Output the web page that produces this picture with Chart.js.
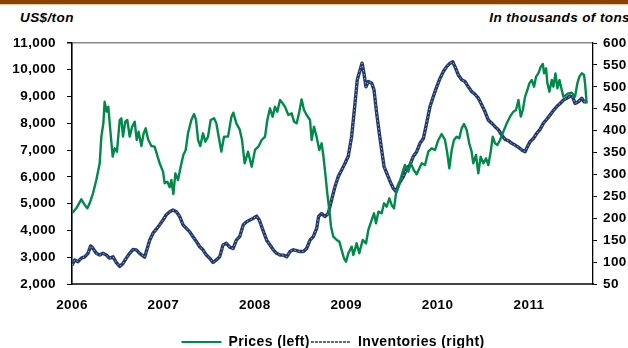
<!DOCTYPE html>
<html>
<head>
<meta charset="utf-8">
<script src="https://cdn.jsdelivr.net/npm/chart.js@4/dist/chart.umd.min.js"></script>
<style>
  html, body { margin: 0; padding: 0; background: #fff; }
  #wrap { position: relative; width: 628px; height: 348px; overflow: hidden; }
  #topbar { position: absolute; left: 0; top: 0; width: 628px; height: 4px; background: #8C4300; border-bottom: 1px solid #E2CBA8; }
  .unit { position: absolute; top: 10px; font: italic bold 13.5px "Liberation Sans", Arial, sans-serif; letter-spacing: 0.4px; line-height: 16px; color: #000; white-space: nowrap; }
  #uleft { left: 20px; }
  #uright { right: -2px; }
  canvas { position: absolute; left: 0; top: 0; }
</style>
</head>
<body>
<div id="wrap">
  <div id="topbar"></div>
  <div class="unit" id="uleft">US$/ton</div>
  <div class="unit" id="uright">In thousands of tons</div>
  <canvas id="c" width="628" height="348"></canvas>
</div>
<script>
// ---- data (decimal years) ----
const yearLabels = [2006, 2007, 2008, 2009, 2010, 2011];

const priceYears = [
  2006.000,2006.047,2006.102,2006.139,2006.168,2006.193,2006.230,2006.266,2006.303,2006.321,
  2006.343,2006.357,2006.379,2006.397,2006.419,2006.445,2006.467,2006.492,2006.522,2006.540,
  2006.558,2006.583,2006.605,2006.631,2006.656,2006.686,2006.708,2006.729,2006.759,2006.784,
  2006.806,2006.832,2006.868,2006.904,2006.926,2006.959,2006.996,2007.014,2007.043,2007.069,
  2007.087,2007.109,2007.131,2007.160,2007.189,2007.218,2007.244,2007.269,2007.306,2007.335,
  2007.357,2007.379,2007.404,2007.433,2007.459,2007.488,2007.517,2007.554,2007.579,2007.605,
  2007.634,2007.663,2007.707,2007.743,2007.765,2007.798,2007.834,2007.860,2007.889,2007.926,
  2007.966,2008.002,2008.039,2008.075,2008.112,2008.137,2008.166,2008.195,2008.221,2008.246,
  2008.276,2008.305,2008.330,2008.367,2008.403,2008.429,2008.458,2008.487,2008.512,2008.538,
  2008.567,2008.604,2008.622,2008.647,2008.676,2008.705,2008.731,2008.749,2008.771,2008.793,
  2008.815,2008.834,2008.859,2008.896,2008.925,2008.950,2008.976,2008.998,2009.023,2009.060,
  2009.078,2009.114,2009.143,2009.180,2009.217,2009.242,2009.279,2009.304,2009.326,2009.352,
  2009.388,2009.414,2009.443,2009.472,2009.497,2009.523,2009.545,2009.581,2009.618,2009.643,
  2009.680,2009.706,2009.740,2009.771,2009.826,2009.862,2009.898,2009.935,2009.972,2010.008,
  2010.044,2010.081,2010.106,2010.128,2010.154,2010.179,2010.208,2010.237,2010.263,2010.289,
  2010.318,2010.346,2010.372,2010.390,2010.420,2010.445,2010.471,2010.500,2010.530,2010.555,
  2010.581,2010.603,2010.628,2010.654,2010.683,2010.719,2010.756,2010.792,2010.829,2010.858,
  2010.884,2010.910,2010.932,2010.957,2010.982,2011.004,2011.030,2011.055,2011.077,2011.102,
  2011.129,2011.151,2011.165,2011.187,2011.201,2011.223,2011.249,2011.267,2011.289,2011.311,
  2011.333,2011.358,2011.376,2011.405,2011.431,2011.468,2011.504,2011.529,2011.551,2011.577,
  2011.602,2011.613,2011.631
];
const priceValues = [
  4640,4826,5162,4951,4826,5013,5386,5884,6507,7502,
  8000,8809,8436,8623,7751,6756,7067,6942,8125,8187,
  7502,8062,8125,7502,7851,8062,7378,7689,7154,7627,
  7813,7403,7154,7129,6880,6507,6195,5760,5822,5610,
  5884,5361,6133,5884,6382,6818,7005,7627,8125,8349,
  8125,7378,7154,7627,7316,7502,8125,8187,8000,7502,
  6942,7502,7502,8224,8399,8000,7776,7378,6507,6942,
  6382,7005,7129,7378,7502,8125,8560,8249,8623,8436,
  8872,8747,8623,8312,8374,8062,8000,8436,8896,8498,
  8312,8125,7378,7876,7502,7005,7253,6818,6133,5386,
  4764,4142,3768,3644,3582,3270,2959,2835,3146,3395,
  3084,3519,3146,3644,3519,4017,4391,4640,4266,4702,
  4640,5013,4889,5200,4951,4826,5386,5760,6195,6444,
  6195,6507,6250,6100,6507,6444,6942,7067,7005,7378,
  7602,7378,6880,6320,7005,7378,7502,7440,7813,7975,
  7751,7253,6942,6507,6818,6133,6756,6507,6693,6444,
  6942,7502,7253,7191,7378,7689,8000,8249,8436,8498,
  8872,8249,8498,8996,9245,9494,9618,9369,9743,9867,
  10116,10216,9867,10054,9494,9183,9618,9369,9867,9307,
  9618,9245,8996,9058,9120,9145,8996,9494,9743,9867,
  9805,9494,8747
];

const inventoryYears = [
  2006.000,2006.029,2006.066,2006.102,2006.139,2006.175,2006.204,2006.230,2006.266,2006.303,
  2006.339,2006.376,2006.412,2006.449,2006.485,2006.522,2006.558,2006.594,2006.631,2006.668,
  2006.704,2006.740,2006.795,2006.813,2006.850,2006.886,2006.923,2006.959,2006.996,2007.032,
  2007.069,2007.105,2007.142,2007.178,2007.215,2007.251,2007.288,2007.324,2007.361,2007.397,
  2007.433,2007.470,2007.506,2007.543,2007.579,2007.616,2007.652,2007.689,2007.725,2007.762,
  2007.798,2007.834,2007.874,2007.911,2007.947,2007.984,2008.020,2008.049,2008.075,2008.101,
  2008.130,2008.166,2008.202,2008.239,2008.276,2008.312,2008.349,2008.385,2008.421,2008.458,
  2008.494,2008.531,2008.567,2008.604,2008.640,2008.677,2008.698,2008.731,2008.767,2008.804,
  2008.840,2008.877,2008.913,2008.950,2008.986,2009.023,2009.059,2009.096,2009.121,2009.151,
  2009.173,2009.194,2009.216,2009.242,2009.279,2009.304,2009.333,2009.362,2009.388,2009.414,
  2009.443,2009.480,2009.516,2009.545,2009.581,2009.625,2009.662,2009.698,2009.734,2009.771,
  2009.807,2009.844,2009.880,2009.917,2009.953,2009.990,2010.026,2010.063,2010.099,2010.136,
  2010.165,2010.190,2010.227,2010.263,2010.300,2010.336,2010.373,2010.409,2010.446,2010.482,
  2010.519,2010.555,2010.592,2010.628,2010.665,2010.701,2010.738,2010.774,2010.811,2010.847,
  2010.884,2010.920,2010.957,2010.982,2011.012,2011.048,2011.085,2011.121,2011.158,2011.194,
  2011.231,2011.267,2011.304,2011.340,2011.377,2011.413,2011.450,2011.479,2011.504,2011.540,
  2011.577,2011.602,2011.631
];
const inventoryValues = [
  93,105,101,109,112,120,137,131,120,116,
  120,116,109,112,99,90,97,109,120,129,
  128,120,111,124,150,166,175,185,196,208,
  215,219,215,204,185,177,169,158,147,135,
  128,116,109,99,105,112,139,143,134,131,
  150,158,185,192,196,200,205,196,181,166,
  150,139,128,120,116,116,112,124,128,126,
  124,124,131,150,158,177,204,211,204,211,
  242,272,295,310,325,342,386,462,516,538,
  554,531,500,512,508,493,440,394,356,318,
  303,284,268,261,280,295,314,322,341,352,
  371,382,417,455,478,500,519,535,546,554,
  557,546,527,516,512,500,489,483,474,459,
  443,424,417,409,402,390,380,377,371,367,
  362,356,352,363,375,382,394,403,417,426,
  436,446,455,462,470,474,479,476,462,466,
  474,466,466
];

const seriesNames = ['Prices (left)', 'Inventories (right)'];

// ---- build ----
const pricePts = priceYears.map((t, i) => ({ x: t, y: priceValues[i] }));
const invPts = inventoryYears.map((t, i) => ({ x: t, y: inventoryValues[i] }));

const FONT = '"Liberation Sans", Arial, sans-serif';
const GREEN = '#00894B';
const NAVY = '#22396A';

const spacingPlugin = {
  id: 'spacing',
  beforeUpdate(chart) { chart.ctx.letterSpacing = '0.4px'; },
  beforeDraw(chart) { chart.ctx.letterSpacing = '0.4px'; },
  afterLayout(chart) {
    if (chart.legend) {
      chart.legend.left += 19; chart.legend.right += 19;
      chart.legend.top += 11; chart.legend.bottom += 11;
    }
  }
};

new Chart(document.getElementById('c'), {
  type: 'line',
  data: {
    datasets: [
      { label: seriesNames[0], data: pricePts, yAxisID: 'y', borderColor: GREEN, backgroundColor: GREEN,
        borderWidth: 2.4, pointRadius: 0, tension: 0, order: 0, borderJoinStyle: 'round' },
      { label: 'overlay', data: invPts, yAxisID: 'y1', borderColor: '#9BACCD', backgroundColor: '#9BACCD',
        borderWidth: 1, borderDash: [1.5, 2.5], pointRadius: 0, tension: 0, order: 1 },
      { label: seriesNames[1], data: invPts, yAxisID: 'y1', borderColor: NAVY, backgroundColor: NAVY,
        borderWidth: 3.4, pointRadius: 0, tension: 0, order: 2, borderJoinStyle: 'round' }
    ]
  },
  options: {
    responsive: false,
    animation: false,
    devicePixelRatio: 1,
    layout: { padding: { top: 43, left: 0, right: 0, bottom: 0 } },
    plugins: {
      tooltip: { enabled: false },
      legend: {
        position: 'bottom',
        labels: {
          usePointStyle: true,
          pointStyle: 'line',
          pointStyleWidth: 40,
          boxHeight: 14,
          padding: 1,
          color: '#000',
          font: { family: FONT, size: 14, weight: 'bold' },
          filter: (item) => item.text !== 'overlay',
          generateLabels(chart) {
            const items = Chart.defaults.plugins.legend.labels.generateLabels(chart);
            items.forEach(it => {
              it.pointStyle = 'line';
              if (it.text === seriesNames[1]) { it.lineDash = [3, 1]; it.lineWidth = 1.6; }
              if (it.text === seriesNames[0]) { it.lineWidth = 2; }
            });
            return items;
          }
        }
      }
    },
    scales: {
      x: {
        type: 'linear',
        min: 2006,
        max: 2011.70,
        afterBuildTicks(scale) { scale.ticks = yearLabels.map(v => ({ value: v })); },
        afterFit(scale) { scale.height = 39; },
        ticks: {
          padding: 13,
          maxRotation: 0,
          color: '#000',
          font: { family: FONT, size: 13.5, weight: 'bold' },
          callback: (v) => String(v)
        },
        grid: { display: false, drawTicks: false },
        border: { display: true, color: '#444', width: 2 }
      },
      y: {
        position: 'left',
        min: 2000,
        max: 11000,
        afterFit(scale) { scale.width = 72; },
        ticks: {
          stepSize: 1000,
          padding: 11,
          color: '#000',
          font: { family: FONT, size: 13.5, weight: 'bold' },
          callback: (v) => v.toLocaleString('en-US')
        },
        grid: {
          drawOnChartArea: true,
          tickLength: 5,
          tickColor: '#000',
          color: (ctx) => (ctx.tick && ctx.tick.value === 11000) ? '#888' : 'rgba(0,0,0,0)',
          lineWidth: (ctx) => (ctx.tick && ctx.tick.value === 11000) ? 1.5 : 1
        },
        border: { display: true, color: '#000', width: 1.6 }
      },
      y1: {
        position: 'right',
        min: 50,
        max: 600,
        afterFit(scale) { scale.width = 35; },
        ticks: {
          stepSize: 50,
          padding: 6,
          color: '#000',
          font: { family: FONT, size: 13.5, weight: 'bold' }
        },
        grid: { drawOnChartArea: false, tickLength: 4, tickColor: '#000' },
        border: { display: true, color: '#000', width: 1.3 }
      }
    }
  },
  plugins: [spacingPlugin]
});
</script>
</body>
</html>
